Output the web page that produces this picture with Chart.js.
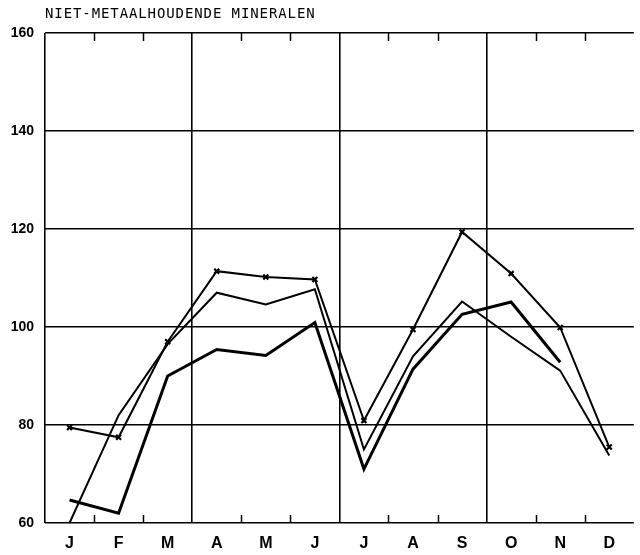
<!DOCTYPE html>
<html>
<head>
<meta charset="utf-8">
<script src="https://cdn.jsdelivr.net/npm/chart.js@4/dist/chart.umd.min.js"></script>
<style>
  html, body { margin: 0; padding: 0; background: #fff; }
  #wrap { width: 640px; height: 555px; }
</style>
</head>
<body>
<div id="wrap"><canvas id="chart" width="640" height="555"></canvas></div>
<script>
const title = 'NIET-METAALHOUDENDE MINERALEN';
const months = ['J', 'F', 'M', 'A', 'M', 'J', 'J', 'A', 'S', 'O', 'N', 'D'];
const yTicks = [60, 80, 100, 120, 140, 160];

// three index lines
const lineMarked = [79.5, 77.5, 97, 111.4, 110.2, 109.7, 80.9, 99.5, 119.4, 110.9, 99.9, 75.5];
const lineThin = [60, 82, 96.5, 107, 104.6, 107.7, 75, 94, 105.2, 98, 91.1, 73.8];
const lineThick = [64.7, 62, 90, 95.4, 94.2, 100.9, 71, 91.4, 102.6, 105.1, 92.8, null];

// title above the frame + small inward ticks on top and bottom edges
const frameExtras = {
  id: 'frameExtras',
  afterDraw(chart) {
    const { ctx, chartArea, scales } = chart;
    ctx.save();
    ctx.fillStyle = '#000';
    ctx.font = '14px "DejaVu Sans Mono"';
    ctx.letterSpacing = '0.9px';
    ctx.textBaseline = 'middle';
    ctx.fillText(title, chartArea.left, 14);
    ctx.restore();

    ctx.save();
    ctx.strokeStyle = '#000';
    ctx.lineWidth = 1.5;
    for (let i = 1; i < months.length; i++) {
      if (i % 3 === 0) continue;
      const x = Math.round(scales.x.getPixelForValue(i - 0.5)) + 0.5;
      ctx.beginPath();
      ctx.moveTo(x, chartArea.top);
      ctx.lineTo(x, chartArea.top + 8);
      ctx.moveTo(x, chartArea.bottom);
      ctx.lineTo(x, chartArea.bottom - 8);
      ctx.stroke();
    }
    ctx.restore();
  }
};

new Chart(document.getElementById('chart'), {
  type: 'line',
  data: {
    labels: months,
    datasets: [
      {
        data: lineThick,
        borderColor: '#000',
        borderWidth: 3,
        pointRadius: 0,
        tension: 0
      },
      {
        data: lineThin,
        borderColor: '#000',
        borderWidth: 2,
        pointRadius: 0,
        tension: 0
      },
      {
        data: lineMarked,
        borderColor: '#000',
        borderWidth: 2,
        pointStyle: 'crossRot',
        pointRadius: 3.5,
        pointBorderWidth: 2.2,
        pointBorderColor: '#000',
        tension: 0
      }
    ]
  },
  options: {
    responsive: false,
    animation: false,
    layout: { padding: { top: 33, right: 6, left: 0, bottom: 0 } },
    plugins: {
      legend: { display: false },
      tooltip: { enabled: false }
    },
    scales: {
      x: {
        offset: true,
        afterFit: (s) => { s.height = 32; },
        grid: {
          offset: true,
          drawTicks: false,
          lineWidth: 1.6,
          color: (c) => (c.index % 3 === 0 ? '#000' : 'rgba(0,0,0,0)')
        },
        border: { display: false },
        ticks: {
          color: '#000',
          padding: 11,
          font: { family: 'Liberation Sans', size: 16, weight: 'bold' }
        }
      },
      y: {
        min: 60,
        max: 160,
        afterFit: (s) => { s.width = 45; },
        afterBuildTicks: (s) => { s.ticks = yTicks.map((v) => ({ value: v })); },
        grid: {
          drawTicks: false,
          lineWidth: 1.6,
          color: '#000'
        },
        border: { display: false },
        ticks: {
          color: '#000',
          padding: 11,
          font: { family: 'Liberation Sans', size: 14, weight: 'bold' }
        }
      }
    }
  },
  plugins: [frameExtras]
});
</script>
</body>
</html>
